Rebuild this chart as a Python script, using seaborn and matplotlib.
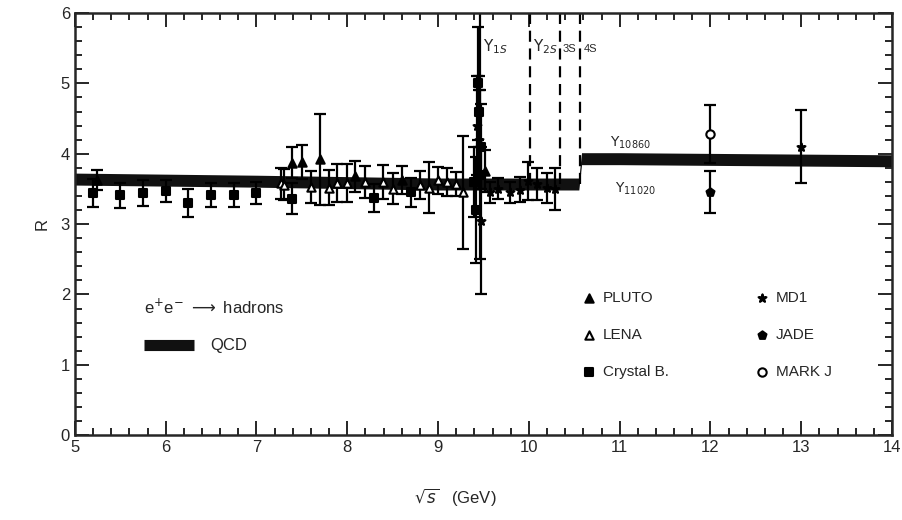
import numpy as np
import pandas as pd
import seaborn as sns
import matplotlib.pyplot as plt
from matplotlib.lines import Line2D
from matplotlib.ticker import MultipleLocator

# data (sqrt(s) in GeV, R, error)
pluto_x = [5.24, 7.39, 7.50, 7.70, 8.08, 8.60, 9.52]
pluto_r = [3.63, 3.87, 3.88, 3.92, 3.68, 3.63, 3.75]
pluto_e = [0.14, 0.22, 0.24, 0.65, 0.22, 0.20, 0.30]

lena_x = [7.27, 7.30, 7.60, 7.80, 7.89, 8.00, 8.19, 8.39, 8.50, 8.80, 8.90, 9.00, 9.10, 9.20, 9.27]
lena_r = [3.58, 3.56, 3.53, 3.52, 3.58, 3.58, 3.60, 3.60, 3.50, 3.55, 3.52, 3.62, 3.60, 3.57, 3.45]
lena_e = [0.22, 0.22, 0.23, 0.25, 0.27, 0.27, 0.23, 0.24, 0.22, 0.20, 0.36, 0.19, 0.20, 0.17, 0.80]

crystal_x = [5.20, 5.50, 5.75, 6.00, 6.25, 6.50, 6.75, 7.00, 7.39, 8.29, 8.70,
             9.40, 9.42, 9.44, 9.45, 9.46, 9.47]
crystal_r = [3.44, 3.41, 3.44, 3.47, 3.30, 3.41, 3.41, 3.44, 3.36, 3.37, 3.45,
             3.60, 3.20, 5.00, 4.60, 3.70, 4.10]
crystal_e = [0.20, 0.18, 0.18, 0.15, 0.20, 0.17, 0.17, 0.16, 0.22, 0.20, 0.20,
             0.50, 0.75, 0.80, 0.50, 1.20, 0.60]

md1_x = [9.43, 9.45, 9.47, 9.57, 9.66, 9.79, 9.90, 9.99, 10.09, 10.20, 10.29, 13.00]
md1_r = [4.40, 4.20, 3.05, 3.45, 3.50, 3.45, 3.49, 3.61, 3.57, 3.51, 3.50, 4.10]
md1_e = [0.70, 0.70, 1.05, 0.15, 0.15, 0.15, 0.18, 0.27, 0.23, 0.21, 0.30, 0.52]

jade_x = [12.00]
jade_r = [3.46]
jade_e = [0.30]

markj_x = [12.00]
markj_r = [4.28]
markj_e = [0.41]

experiments = ["PLUTO", "LENA", "Crystal B.", "MD1", "JADE", "MARK J"]

# QCD prediction (continuum, with b-quark threshold step)
qcd_x = [5.0, 7.0, 9.0, 10.55, 10.58, 11.0, 12.0, 13.0, 14.0]
qcd_r = [3.64, 3.61, 3.57, 3.57, 3.93, 3.93, 3.92, 3.91, 3.90]

# Upsilon resonances
ups_mass = [9.46, 10.01, 10.34, 10.56]
ups_base = [3.57, 3.57, 3.57, 3.57]

frames = []
for name, xs, rs, es in [("PLUTO", pluto_x, pluto_r, pluto_e),
                         ("LENA", lena_x, lena_r, lena_e),
                         ("Crystal B.", crystal_x, crystal_r, crystal_e),
                         ("MD1", md1_x, md1_r, md1_e),
                         ("JADE", jade_x, jade_r, jade_e),
                         ("MARK J", markj_x, markj_r, markj_e)]:
    frames.append(pd.DataFrame({"exp": name, "x": xs, "R": rs, "err": es}))
df = pd.concat(frames, ignore_index=True)

sns.set_style("ticks")
plt.rcParams["font.family"] = ["Liberation Sans", "DejaVu Sans"]
plt.rcParams["mathtext.fontset"] = "dejavusans"

fig = plt.figure(figsize=(9.02, 5.2), dpi=100)
ax = fig.add_axes([0.083, 0.163, 0.906, 0.812])

# QCD band
ax.fill_between(qcd_x, np.array(qcd_r) - 0.085, np.array(qcd_r) + 0.085,
                color="#111111", lw=0, zorder=2)

# resonance lines
ax.vlines(ups_mass[0], ups_base[0], 6.2, colors="black", lw=1.6, zorder=2)
ax.vlines(ups_mass[1:], ups_base[1:], 6.2, colors="black", lw=1.6,
          linestyles=(0, (5, 3)), zorder=2)

# error bars
ax.errorbar(df["x"], df["R"], yerr=df["err"], fmt="none", ecolor="black",
            elinewidth=1.6, capsize=4, capthick=1.6, zorder=3)

styles = {
    "PLUTO": dict(marker="^", fc="black"),
    "LENA": dict(marker="^", fc="white"),
    "Crystal B.": dict(marker="s", fc="black"),
    "MD1": dict(marker="*", fc="black"),
    "JADE": dict(marker="p", fc="black"),
    "MARK J": dict(marker="o", fc="white"),
}
for name in experiments:
    g = df[df["exp"] == name]
    st = styles[name]
    sns.scatterplot(data=g, x="x", y="R", marker=st["marker"], s=36,
                    facecolor=st["fc"], edgecolor="black", linewidth=1.5,
                    label=name, zorder=4, ax=ax)

ax.set_xlim(5, 14)
ax.set_ylim(0, 6)
ax.xaxis.set_major_locator(MultipleLocator(1))
ax.xaxis.set_minor_locator(MultipleLocator(0.2))
ax.yaxis.set_major_locator(MultipleLocator(1))
ax.yaxis.set_minor_locator(MultipleLocator(0.2))
ax.tick_params(which="both", direction="in", top=True, right=True,
               width=1.4, labelsize=12)
ax.tick_params(which="major", length=10)
ax.tick_params(which="minor", length=5)
for sp in ax.spines.values():
    sp.set_linewidth(1.8)

ax.set_xlabel(r"$\sqrt{s}$   (GeV)", fontsize=12)
ax.set_ylabel("R", fontsize=12, labelpad=8)
ax.xaxis.set_label_coords(0.465, -0.12)

# resonance labels
ax.text(9.5, 5.45, r"$\Upsilon_{1S}$", fontsize=11)
ax.text(10.04, 5.45, r"$\Upsilon_{2S}$", fontsize=11)
ax.text(10.37, 5.45, "3S", fontsize=8)
ax.text(10.6, 5.45, "4S", fontsize=8)
ax.text(10.89, 4.1, r"$\Upsilon_{10860}$", fontsize=10)
ax.text(10.95, 3.45, r"$\Upsilon_{11020}$", fontsize=10)

leg = ax.legend(ncol=2, loc="lower left", bbox_to_anchor=(0.603, 0.1),
                frameon=False, fontsize=11, labelspacing=1.5,
                columnspacing=5.6, handletextpad=0.4, handlelength=1.0,
                markerscale=1.0)
ax.add_artist(leg)

qcd_handle = Line2D([0], [0], color="#111111", lw=8, solid_capstyle="butt")
leg2 = ax.legend([qcd_handle], ["QCD"], loc="lower left",
                 bbox_to_anchor=(0.07, 0.166), frameon=False, fontsize=12,
                 title=r"e$^{+}$e$^{-}$ $\longrightarrow$ hadrons",
                 title_fontsize=12, handlelength=3.0, handletextpad=1.0,
                 borderaxespad=0.3)
leg2._legend_box.align = "left"
leg2._legend_box.sep = 16

fig.savefig("out.png", dpi=100)
